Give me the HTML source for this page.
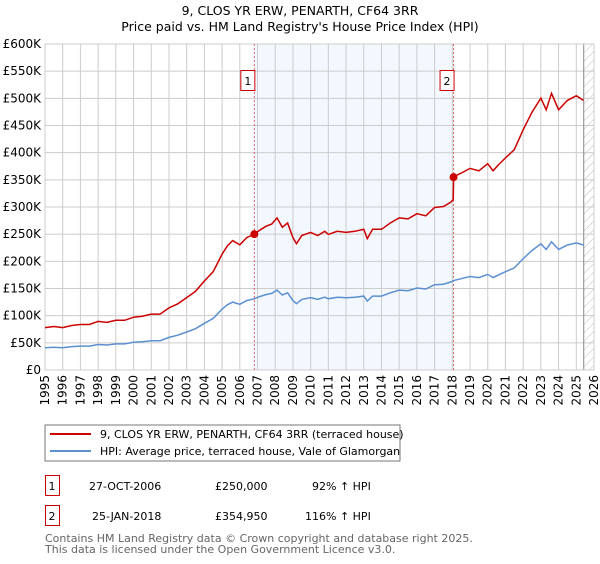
<!DOCTYPE html>
<html><head><meta charset="utf-8"><style>
body{margin:0;background:#fff;font-family:"DejaVu Sans","Liberation Sans",sans-serif;}
svg text{font-family:"DejaVu Sans","Liberation Sans",sans-serif;}
</style></head><body>
<svg id="chart" width="600" height="560" xmlns="http://www.w3.org/2000/svg">
<defs><pattern id="hatch" width="6" height="6" patternUnits="userSpaceOnUse" patternTransform="rotate(45)"><line x1="0" y1="0" x2="0" y2="6" stroke="#bbb" stroke-width="1"/></pattern></defs>
<text x="300" y="15" text-anchor="middle" font-size="12.5">9, CLOS YR ERW, PENARTH, CF64 3RR</text>
<text x="300" y="31" text-anchor="middle" font-size="12.5">Price paid vs. HM Land Registry's House Price Index (HPI)</text>
<g id="plot"></g>
<rect x="45" y="425" width="355" height="36" fill="#fff" stroke="#777"/>
<line x1="50" y1="434" x2="91" y2="434" stroke="#cc0000" stroke-width="2"/>
<text x="100" y="438" font-size="11">9, CLOS YR ERW, PENARTH, CF64 3RR (terraced house)</text>
<line x1="50" y1="451" x2="91" y2="451" stroke="#5b8fd0" stroke-width="2"/>
<text x="100" y="455" font-size="11">HPI: Average price, terraced house, Vale of Glamorgan</text>
<g>
<rect x="45.5" y="475.5" width="14" height="20" fill="none" stroke="#cc0000"/>
<text x="52" y="490" text-anchor="middle" font-size="11">1</text>
<text x="89" y="490" font-size="11">27-OCT-2006</text>
<text x="215" y="490" font-size="11">£250,000</text>
<text x="312" y="490" font-size="11">92% ↑ HPI</text></g>
<g>
<rect x="45.5" y="505.5" width="14" height="20" fill="none" stroke="#cc0000"/>
<text x="52" y="520" text-anchor="middle" font-size="11">2</text>
<text x="92" y="520" font-size="11">25-JAN-2018</text>
<text x="215" y="520" font-size="11">£354,950</text>
<text x="305" y="520" font-size="11">116% ↑ HPI</text></g>
<text x="45" y="542" font-size="11" fill="#666">Contains HM Land Registry data © Crown copyright and database right 2025.</text>
<text x="45" y="553" font-size="11" fill="#666">This data is licensed under the Open Government Licence v3.0.</text>
</svg>
<script>
const hpiYears=[1995,1995.5,1996,1996.5,1997,1997.5,1998,1998.5,1999,1999.5,2000,2000.5,2001,2001.5,2002,2002.5,2003,2003.5,2004,2004.5,2005,2005.3,2005.6,2006,2006.4,2006.8,2007.2,2007.5,2007.8,2008.1,2008.4,2008.7,2009,2009.2,2009.5,2010,2010.4,2010.8,2011,2011.5,2012,2012.5,2013,2013.2,2013.5,2014,2014.5,2015,2015.5,2016,2016.5,2017,2017.5,2017.9,2018.1,2018.5,2019,2019.5,2020,2020.3,2020.6,2021,2021.5,2022,2022.5,2023,2023.3,2023.6,2024,2024.5,2025,2025.4];
const hpiValues=[41,42,41,43,44,44,47,46,48,48,51,52,54,54,60,64,70,76,86,95,112,120,125,121,128,131,136,139,141,147,138,142,128,122,130,133,130,134,131,134,133,134,136,127,136,136,142,147,146,151,149,157,158,162,165,168,172,170,176,170,175,181,188,205,220,232,222,236,222,230,234,230];
const saleYears=[2006.82,2018.07];
const salePrices=[250,354.95];
const yTicks=[0,50,100,150,200,250,300,350,400,450,500,550,600];
const xTicks=[1995,1996,1997,1998,1999,2000,2001,2002,2003,2004,2005,2006,2007,2008,2009,2010,2011,2012,2013,2014,2015,2016,2017,2018,2019,2020,2021,2022,2023,2024,2025,2026];
const X0=45,X1=594,Y0=370,Y1=44,xmin=1995,xmax=2026,ymax=600;
const xs=v=>X0+(v-xmin)/(xmax-xmin)*(X1-X0);
const ys=v=>Y0-v/ymax*(Y0-Y1);
const NS="http://www.w3.org/2000/svg";
const g=document.getElementById('plot');
function mk(t,a){const e=document.createElementNS(NS,t);for(const k in a)e.setAttribute(k,a[k]);g.appendChild(e);return e;}
function hpiAt(y){for(let i=1;i<hpiYears.length;i++){if(y<=hpiYears[i]){const t=(y-hpiYears[i-1])/(hpiYears[i]-hpiYears[i-1]);return hpiValues[i-1]+t*(hpiValues[i]-hpiValues[i-1]);}}return hpiValues[hpiValues.length-1];}
let e=mk('rect',{x:xs(saleYears[0]),y:Y1,width:xs(saleYears[1])-xs(saleYears[0]),height:Y0-Y1,fill:'#eef3fd',opacity:0.7});


e=mk('rect',{x:xs(2025.42),y:Y1,width:X1-xs(2025.42),height:Y0-Y1,fill:'url(#hatch)'});


yTicks.forEach(v=>{
 let l=mk('line',{x1:X0,x2:X1,y1:ys(v),y2:ys(v),stroke:'#ccc'});
 
 
 let t=mk('text',{x:X0-4,y:ys(v)+4,'text-anchor':'end','font-size':'12'});
 t.textContent='£'+(v===0?'0':v+'K');
 
 
});
xTicks.forEach(v=>{
 let l=mk('line',{x1:xs(v),x2:xs(v),y1:Y1,y2:Y0,stroke:'#ccc'});
 
 
 let t=mk('text',{x:0,y:0,'font-size':'12','text-anchor':'end',transform:`translate(${xs(v)+4},${Y0+5}) rotate(-90)`});
 t.textContent=v;
 
 
});
e=mk('line',{x1:xs(2025.42),x2:xs(2025.42),y1:Y1,y2:Y0,stroke:'#888'});


e=mk('rect',{x:X0,y:Y1,width:X1-X0,height:Y0-Y1,fill:'none',stroke:'#ccc'});


saleYears.forEach((s,i)=>{
 let l=mk('line',{x1:xs(s),x2:xs(s),y1:Y1,y2:Y0,stroke:'#e06666','stroke-dasharray':'2,2'});
 
 
});
// HPI
let d=hpiYears.map((y,i)=>(i?'L':'M')+xs(y).toFixed(1)+','+ys(hpiValues[i]).toFixed(1)).join('');
e=mk('path',{d:d,fill:'none',stroke:'#5b8fd0','stroke-width':1.5});


// Property line: HPI indexed from sale prices
const r1=salePrices[0]/hpiAt(saleYears[0]),r2=salePrices[1]/hpiAt(saleYears[1]);
let pts=[];
hpiYears.forEach((y,i)=>{
 if(y<saleYears[1]) pts.push([y,hpiValues[i]*r1]);
});
pts.push([saleYears[1]-0.02,hpiAt(saleYears[1])*r1]);
pts.push([saleYears[1],salePrices[1]]);
hpiYears.forEach((y,i)=>{if(y>saleYears[1]) pts.push([y,hpiValues[i]*r2]);});
d=pts.map((p,i)=>(i?'L':'M')+xs(p[0]).toFixed(1)+','+ys(p[1]).toFixed(1)).join('');
e=mk('path',{d:d,fill:'none',stroke:'#cc0000','stroke-width':1.5});


saleYears.forEach((s,i)=>{
 let c=mk('circle',{cx:xs(s),cy:ys(salePrices[i]),r:4,fill:'#cc0000'});
 
 
 let b=mk('rect',{x:xs(s)-13.5,y:70.5,width:14,height:20,fill:'#fff',stroke:'#cc0000'});
 
 
 let t=mk('text',{x:xs(s)-6.5,y:85,'text-anchor':'middle','font-size':'11'});
 t.textContent=String(i+1);
 
 
});
</script>
</body></html>
